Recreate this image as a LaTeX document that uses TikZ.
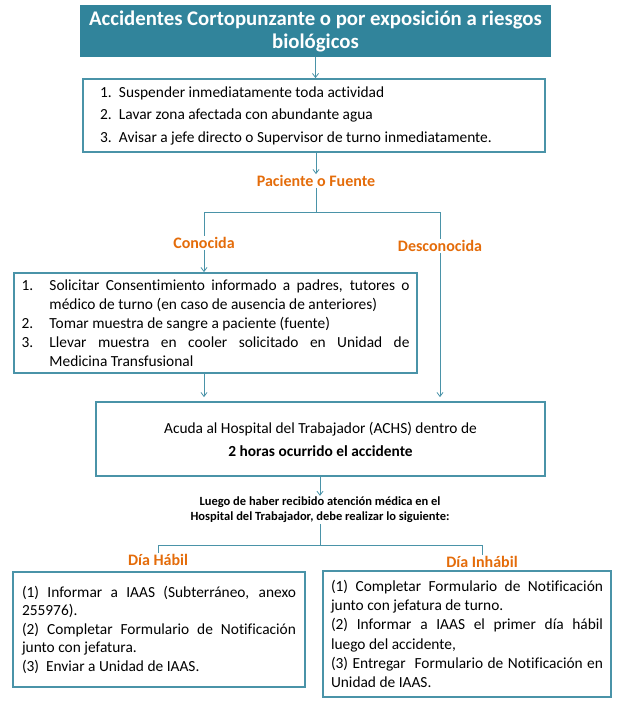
\documentclass[tikz,border=0pt]{standalone}
\usepackage{fontspec}
\setmainfont{Carlito}[Ligatures=NoCommon]
\usetikzlibrary{positioning,arrows.meta}

\definecolor{tealfill}{HTML}{31849B}
\definecolor{tealline}{HTML}{4A93A8}
\definecolor{naranja}{HTML}{E46C0A}

\newcommand{\singuion}{\hyphenpenalty=10000\exhyphenpenalty=10000\emergencystretch=20pt}

\tikzset{
  caja/.style={draw=tealline, line width=1.8pt, inner sep=0pt, fill=white},
  flecha/.style={draw=tealline, line width=0.8pt, -{Straight Barb[length=4pt,width=6pt]}},
  linea/.style={draw=tealline, line width=0.8pt},
  rotulo/.style={text=naranja, font=\fontsize{16}{18}\selectfont\bfseries, inner sep=1pt},
}

\begin{document}
\begin{tikzpicture}[x=1pt,y=-1pt]
\useasboundingbox (0,0) rectangle (619,710);

% titulo
\node[fill=tealfill, minimum width=471pt, minimum height=52pt, inner sep=0pt,
      text=white, align=center, font=\fontsize{20.8}{23}\selectfont\bfseries]
  (titulo) at (315.5,31) {Accidentes Cortopunzante o por exposición a riesgos\\biológicos};

% primeros pasos
\node[caja, minimum width=462pt, minimum height=73pt] (pasos) at (314,115.5)
  {\parbox{428pt}{\raggedright\fontsize{15.4}{22.5}\selectfont
   \makebox[19pt][l]{1.}Suspender inmediatamente toda actividad\\
   \makebox[19pt][l]{2.}Lavar zona afectada con abundante agua\\
   \makebox[19pt][l]{3.}Avisar a jefe directo o Supervisor de turno inmediatamente.}};

\node[rotulo] (paciente) at (316,181) {Paciente o Fuente};
\coordinate (ramaA) at (316,212);
\node[rotulo] (conocida) at (204,243) {Conocida};
\node[rotulo] (desconocida) at (440,246) {Desconocida};

% fuente conocida
\node[caja, minimum width=403pt, minimum height=100pt] (conbox) at (215.5,323)
  {\parbox{388pt}{\fontsize{15.4}{19}\selectfont\singuion
   \hangindent=28pt\hangafter=1\makebox[28pt][l]{1.}Solicitar Consentimiento informado a padres, tutores o\linebreak médico de turno (en caso de ausencia de anteriores)\par
   \makebox[28pt][l]{2.}Tomar muestra de sangre a paciente (fuente)\par
   \hangindent=28pt\hangafter=1\makebox[28pt][l]{3.}Llevar muestra en cooler solicitado en Unidad de\linebreak Medicina Transfusional\par}};

% hospital
\node[caja, minimum width=449pt, minimum height=74pt, align=center,
      font=\fontsize{15.4}{23}\selectfont] (hospital) at (320.5,439)
  {Acuda al Hospital del Trabajador (ACHS) dentro de\\\textbf{2 horas ocurrido el accidente}};

\node[align=center, font=\fontsize{12.5}{15}\selectfont\bfseries, inner sep=1pt] (luego) at (320,510)
  {Luego de haber recibido atención médica en el\\Hospital del Trabajador, debe realizar lo siguiente:};
\coordinate (ramaB) at (320,545);
\node[rotulo] (habil) at (158,560) {Día Hábil};
\node[rotulo] (inhabil) at (482,562) {Día Inhábil};

% dia habil / inhabil
\node[caja, minimum width=292pt, minimum height=115pt] (habbox) at (159,629.5)
  {\parbox{274pt}{\fontsize{15.4}{18.5}\selectfont\singuion
   (1) Informar a IAAS (Subterráneo, anexo\linebreak 255976).\par
   (2) Completar Formulario de Notificación\linebreak junto con jefatura.\par
   (3)\ \ Enviar a Unidad de IAAS.\par}};
\node[caja, minimum width=288pt, minimum height=126pt] (inhbox) at (467,634)
  {\parbox{272pt}{\fontsize{15.4}{19.2}\selectfont\singuion
   (1) Completar Formulario de Notificación\linebreak junto con jefatura de turno.\par
   (2) Informar a IAAS el primer día hábil\linebreak luego del accidente,\par
   (3) Entregar\ \ Formulario de Notificación en\linebreak Unidad de IAAS.\par}};

% conectores
\draw[flecha] (titulo.south) -- (titulo.south |- pasos.north);
\draw[flecha] (pasos.south -| paciente) -- (paciente.north);
\draw[linea] (paciente.south) -- (ramaA) -| (conocida.north);
\draw[linea] (ramaA) -| (desconocida.north);
\draw[flecha] (conocida.south) -- (conocida.south |- conbox.north);
\draw[flecha, shorten >=4pt] (desconocida.south) -- (desconocida.south |- hospital.north);
\draw[flecha, shorten >=4pt] (conocida.south |- conbox.south) -- (conocida.south |- hospital.north);
\draw[flecha] (hospital.south -| luego) -- (luego.north);
\draw[linea] (luego.south) -- (ramaB) -| (habil.north);
\draw[linea] (ramaB) -| (inhabil.north);
\end{tikzpicture}
\end{document}
